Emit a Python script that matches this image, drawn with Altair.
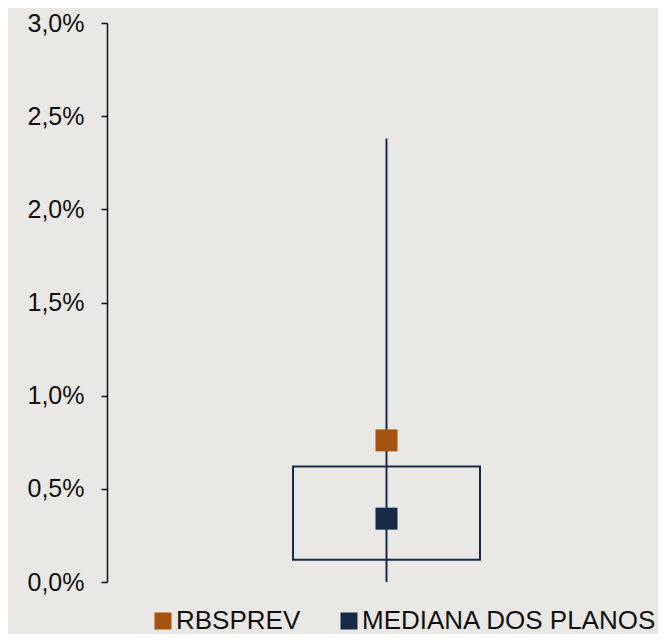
import altair as alt
import pandas as pd

# ---- data ----
series_names = ["RBSPREV", "MEDIANA DOS PLANOS"]
series_values = [0.0076, 0.0034]
box_low = [0.0012]
box_high = [0.0062]
whisker_low = [0.0]
whisker_high = [0.0238]
group = ["Planos"]
y_ticks = [0.0, 0.005, 0.010, 0.015, 0.020, 0.025, 0.030]

orange = "#A6530F"
navy = "#172B47"

points = pd.DataFrame({"grupo": group * len(series_names),
                       "serie": series_names,
                       "valor": series_values})
ranges = pd.DataFrame({"grupo": group, "q1": box_low, "q3": box_high,
                       "mn": whisker_low, "mx": whisker_high})

xenc = alt.X("grupo:N", axis=None,
             scale=alt.Scale(paddingInner=0, paddingOuter=0.5, align=0.5145))
yscale = alt.Scale(domain=[0, 0.03])
yaxis = alt.Axis(values=y_ticks, grid=False, title=None,
                 labelExpr="replace(format(datum.value, '.1%'), '.', ',')",
                 labelFont="Liberation Sans", labelFontSize=25, labelColor="#111111",
                 labelPadding=17, tickSize=6, tickColor="#111111", tickWidth=1.5,
                 domainColor="#111111", domainWidth=1.5)

whisker = alt.Chart(ranges).mark_rule(color=navy, strokeWidth=2).encode(
    x=xenc,
    y=alt.Y("mn:Q", scale=yscale, axis=yaxis),
    y2="mx:Q",
)

box = alt.Chart(ranges).mark_bar(size=187, fill="transparent", stroke=navy,
                                 strokeWidth=2).encode(
    x=xenc,
    y=alt.Y("q1:Q", scale=yscale),
    y2="q3:Q",
)

squares = alt.Chart(points).mark_square(size=484, opacity=1).encode(
    x=xenc,
    y=alt.Y("valor:Q", scale=yscale),
    color=alt.Color("serie:N",
                    scale=alt.Scale(domain=series_names, range=[orange, navy]),
                    legend=alt.Legend(title=None, orient="none", direction="horizontal",
                                      legendX=43, legendY=585,
                                      symbolType="square", symbolSize=289,
                                      symbolStrokeWidth=0, symbolOpacity=1,
                                      labelFont="Liberation Sans", labelFontSize=26,
                                      labelColor="#111111", labelOffset=0,
                                      labelLimit=500,
                                      columnPadding=35, padding=0)),
)

chart = alt.layer(whisker, box, squares).properties(
    width=551, height=559,
    autosize=alt.AutoSizeParams(type="none"),
    padding={"left": 99, "top": 15, "right": 0, "bottom": 52},
    background="#eae8e4",
).configure_view(stroke=None)

chart.save("out.html", embed_options={"renderer": "svg", "actions": False})
